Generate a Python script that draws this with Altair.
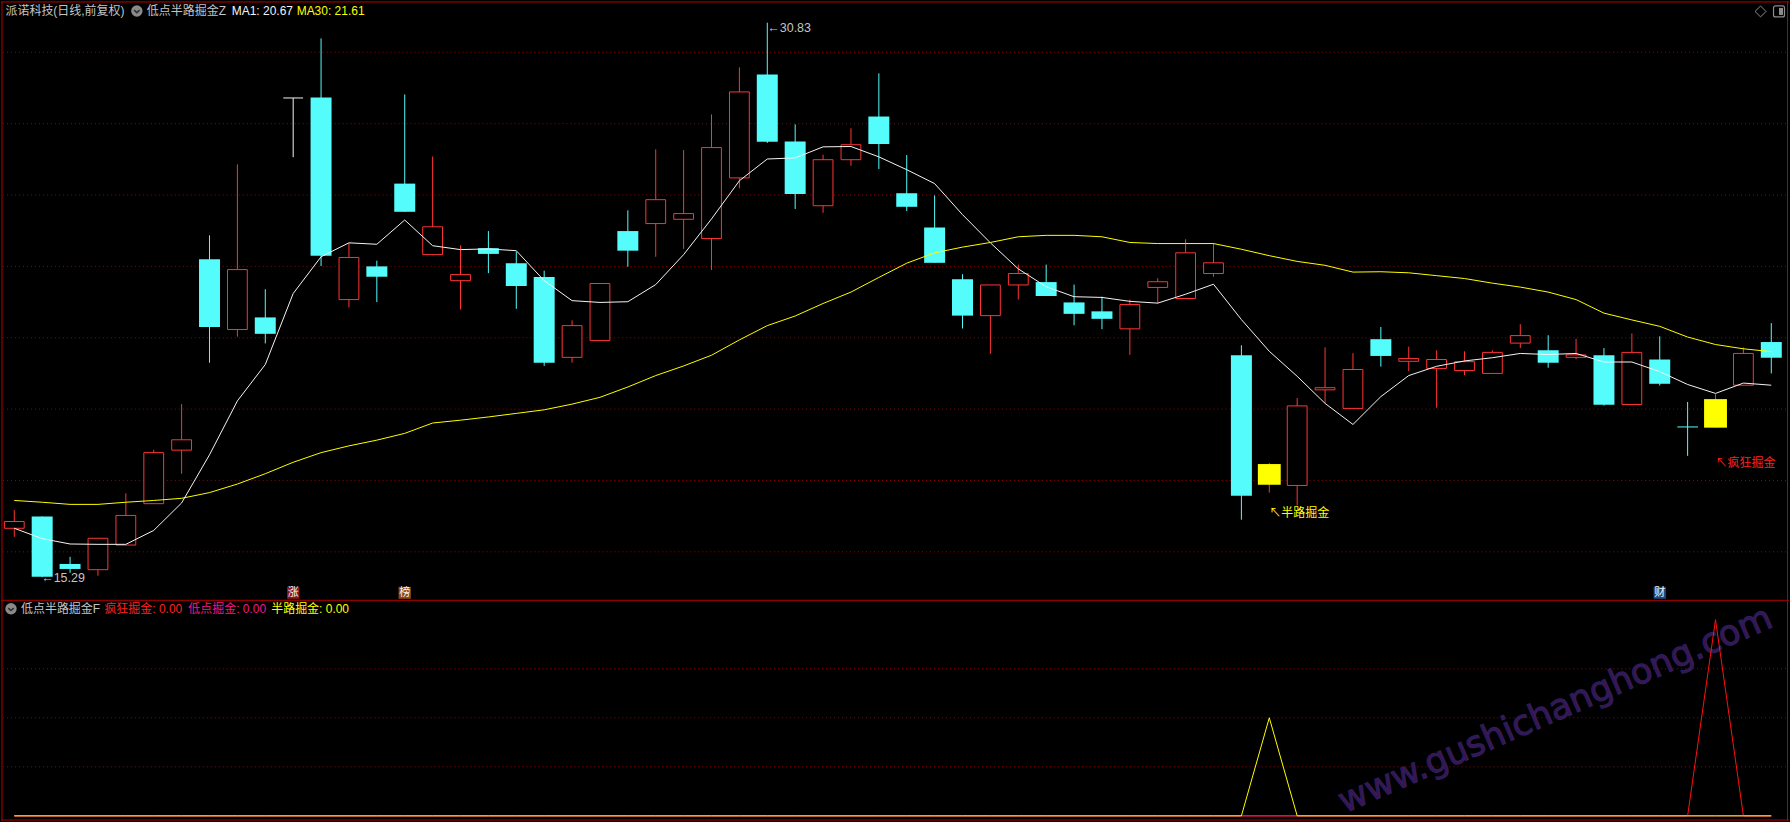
import altair as alt
import pandas as pd

# ---------------- daily bars, oldest first ----------------
opens = [16.66, 16.99, 15.66, 15.50, 16.19, 17.35, 18.85, 24.20, 22.23, 22.57,
         28.72, 28.73, 23.07, 24.00, 26.32, 24.33, 23.60, 24.51, 24.09, 23.70,
         21.45, 21.92, 24.99, 25.20, 25.32, 24.78, 26.48, 29.38, 27.50, 25.70,
         26.99, 28.20, 26.05, 25.09, 23.64, 22.62, 23.48, 23.56, 22.99, 22.74,
         22.25, 23.41, 23.10, 23.80, 21.51, 17.88, 17.86, 20.54, 20.02, 21.96,
         21.34, 21.14, 21.08, 21.00, 21.85, 21.65, 21.45, 21.51, 20.13, 21.39,
         19.50, 19.48, 20.67, 21.88]
highs = [17.17, 16.99, 15.86, 16.38, 17.64, 18.86, 20.14, 24.87, 26.86, 23.36,
         28.72, 30.39, 24.65, 24.16, 28.82, 27.08, 24.59, 24.99, 24.41, 23.88,
         22.49, 23.52, 25.57, 27.28, 27.26, 28.26, 29.58, 30.83, 27.98, 27.13,
         27.87, 29.41, 27.12, 25.99, 23.78, 23.48, 24.05, 24.05, 23.49, 23.15,
         23.07, 23.67, 24.76, 24.65, 21.79, 18.49, 20.31, 21.73, 21.57, 22.30,
         21.75, 21.65, 21.62, 21.65, 22.38, 22.07, 21.97, 21.71, 22.12, 22.04,
         20.20, 20.42, 21.73, 22.41]
lows = [16.42, 15.29, 15.41, 15.33, 16.19, 17.35, 18.19, 21.30, 22.03, 21.84,
        27.06, 24.01, 22.85, 23.00, 25.53, 24.33, 22.79, 23.81, 22.81, 21.21,
        21.30, 21.92, 23.99, 24.27, 24.49, 23.90, 26.19, 27.46, 25.61, 25.50,
        26.82, 26.73, 25.55, 24.10, 22.26, 21.55, 23.07, 23.17, 22.35, 22.24,
        21.52, 22.96, 23.10, 23.71, 16.90, 17.66, 17.30, 20.17, 20.02, 21.19,
        21.06, 20.04, 20.95, 21.00, 21.71, 21.16, 21.40, 20.10, 20.13, 20.66,
        18.69, 19.48, 20.67, 21.00]
closes = [16.85, 15.30, 15.52, 16.38, 17.02, 18.78, 19.14, 22.30, 23.91, 22.11,
          28.72, 24.30, 24.25, 23.71, 25.53, 25.11, 23.77, 24.35, 23.45, 21.30,
          22.34, 23.52, 24.44, 25.87, 25.48, 27.33, 28.89, 27.49, 26.03, 26.99,
          27.41, 27.43, 25.67, 24.10, 22.62, 23.48, 23.80, 23.17, 22.67, 22.53,
          22.93, 23.57, 24.38, 24.10, 17.57, 18.46, 20.09, 20.60, 21.11, 21.49,
          21.42, 21.39, 21.33, 21.59, 22.06, 21.30, 21.52, 20.12, 21.59, 20.71,
          19.50, 20.28, 21.56, 21.44]
# up = hollow red, down = solid cyan, sig = signal day (yellow body),
# doji_w / doji_c = flat bars drawn white / cyan
kinds = ["up", "down", "down", "up", "up", "up", "up", "down", "up", "down",
         "doji_w", "down", "up", "down", "down", "up", "up", "down", "down", "down",
         "up", "up", "down", "up", "up", "up", "up", "down", "down", "up",
         "up", "down", "down", "down", "down", "up", "up", "down", "down", "down",
         "up", "up", "up", "up", "down", "sig", "up", "up", "up", "down",
         "up", "up", "up", "up", "up", "down", "up", "down", "up", "down",
         "doji_c", "sig", "up", "down"]
# MA1 (white) and MA30 (yellow) overlay lines
ma1 = [16.66, 16.37, 16.22, 16.21, 16.21, 16.60, 17.37, 18.72, 20.23, 21.25,
       23.24, 24.27, 24.66, 24.62, 25.30, 24.58, 24.47, 24.49, 24.44, 23.60,
       23.04, 22.99, 23.01, 23.49, 24.33, 25.33, 26.40, 27.01, 27.04, 27.35,
       27.36, 27.07, 26.71, 26.32, 25.45, 24.66, 23.93, 23.43, 23.15, 23.13,
       23.02, 22.97, 23.22, 23.50, 22.51, 21.62, 20.92, 20.16, 19.57, 20.35,
       20.94, 21.20, 21.35, 21.44, 21.56, 21.53, 21.56, 21.32, 21.32, 21.05,
       20.69, 20.44, 20.73, 20.67]
ma30 = [17.44, 17.39, 17.33, 17.33, 17.39, 17.44, 17.50, 17.66, 17.90, 18.19,
        18.51, 18.78, 18.97, 19.13, 19.32, 19.61, 19.69, 19.78, 19.88, 19.98,
        20.14, 20.33, 20.62, 20.94, 21.21, 21.51, 21.94, 22.34, 22.61, 22.96,
        23.28, 23.69, 24.09, 24.38, 24.54, 24.67, 24.83, 24.87, 24.87, 24.83,
        24.67, 24.64, 24.64, 24.64, 24.48, 24.30, 24.14, 24.03, 23.84, 23.85,
        23.82, 23.74, 23.66, 23.53, 23.42, 23.28, 23.07, 22.69, 22.50, 22.32,
        22.02, 21.81, 21.69, 21.61]

# ---------------- sub-panel signal series ----------------
crazy_gold = [0, 0, 0, 0, 0, 0, 0, 0, 0, 0, 0, 0, 0, 0, 0, 0, 0, 0, 0, 0,
              0, 0, 0, 0, 0, 0, 0, 0, 0, 0, 0, 0, 0, 0, 0, 0, 0, 0, 0, 0,
              0, 0, 0, 0, 0, 0, 0, 0, 0, 0, 0, 0, 0, 0, 0, 0, 0, 0, 0, 0,
              0, 4, 0, 0]
low_gold = [0, 0, 0, 0, 0, 0, 0, 0, 0, 0, 0, 0, 0, 0, 0, 0, 0, 0, 0, 0,
            0, 0, 0, 0, 0, 0, 0, 0, 0, 0, 0, 0, 0, 0, 0, 0, 0, 0, 0, 0,
            0, 0, 0, 0, 0, 0, 0, 0, 0, 0, 0, 0, 0, 0, 0, 0, 0, 0, 0, 0,
            0, 0, 0, 0]
half_gold = [0, 0, 0, 0, 0, 0, 0, 0, 0, 0, 0, 0, 0, 0, 0, 0, 0, 0, 0, 0,
             0, 0, 0, 0, 0, 0, 0, 0, 0, 0, 0, 0, 0, 0, 0, 0, 0, 0, 0, 0,
             0, 0, 0, 0, 0, 2, 0, 0, 0, 0, 0, 0, 0, 0, 0, 0, 0, 0, 0, 0,
             0, 0, 0, 0]

grid_main = [16, 18, 20, 22, 24, 26, 28, 30]
grid_sub = [1, 2, 3]

badge_idx = [10, 14, 59]
badge_text = ["涨", "榜", "财"]

# ---------------- styling ----------------
CYAN = "#54fcfc"
RED = "#ff3434"
YELLOW = "#ffff00"
WHITE = "#f4f4f4"
GRAY = "#c4c4c4"
PINK = "#f0168a"
GRID = "#9a0000"
FRAME = "#b80000"
FONT = "Liberation Sans, Noto Sans CJK SC, DejaVu Sans"

W = 1790
H_MAIN = 599
H_SUB = 223

x_sc = alt.Scale(domain=[-0.4764, 63.635], nice=False, zero=False)
y_main = alt.Scale(domain=[14.656, 31.425], nice=False, zero=False)
y_sub = alt.Scale(domain=[-0.136, 4.405], nice=False, zero=False)


def X(f):
    return alt.X(f, type="quantitative", scale=x_sc, axis=None)


def YM(f):
    return alt.Y(f, type="quantitative", scale=y_main, axis=None)


def YS(f):
    return alt.Y(f, type="quantitative", scale=y_sub, axis=None)


def text_at(txt, x, y, color, size=12, align="left"):
    return alt.Chart(pd.DataFrame({"t": [txt]})).mark_text(
        align=align, baseline="middle", font=FONT, fontSize=size, color=color
    ).encode(x=alt.value(x), y=alt.value(y), text="t:N")


def hline(x1, x2, y, color=FRAME):
    return alt.Chart(pd.DataFrame({"k": [0]})).mark_rule(color=color, strokeWidth=1).encode(
        x=alt.value(x1), x2=alt.value(x2), y=alt.value(y))


def vline(x, y1, y2, color=FRAME):
    return alt.Chart(pd.DataFrame({"k": [0]})).mark_rule(color=color, strokeWidth=1).encode(
        x=alt.value(x), y=alt.value(y1), y2=alt.value(y2))


def menu_icon(x, y):
    disc = alt.Chart(pd.DataFrame({"k": [0]})).mark_point(
        shape="circle", filled=True, size=130, color="#8a8a8a", opacity=1
    ).encode(x=alt.value(x), y=alt.value(y))
    chev = alt.Chart(pd.DataFrame({"k": [0]})).mark_point(
        shape="M-1,-0.45L0,0.45L1,-0.45", filled=False, size=30, color="#303030",
        strokeWidth=1.6, opacity=1
    ).encode(x=alt.value(x), y=alt.value(y + 0.5))
    return disc + chev


bars = pd.DataFrame({
    "i": list(range(len(closes))), "open": opens, "high": highs, "low": lows,
    "close": closes, "kind": kinds, "ma1": ma1, "ma30": ma30,
    "crazy": crazy_gold, "lowpt": low_gold, "half": half_gold,
})
base = alt.Chart(bars)

# ---------------- main price panel ----------------
grid1 = alt.Chart(pd.DataFrame({"p": grid_main})).mark_rule(
    color=GRID, strokeDash=[1, 3], strokeWidth=1
).encode(y=YM("p"), x=alt.value(2), x2=alt.value(1788))

wicks = base.mark_rule(strokeWidth=1).encode(
    x=X("i"), y=YM("low"), y2="high:Q",
    color=alt.Color("kind:N", scale=alt.Scale(
        domain=["up", "down", "sig", "doji_w", "doji_c"],
        range=[RED, CYAN, RED, WHITE, CYAN]), legend=None),
)

hollow = base.transform_filter("datum.kind == 'up'").transform_calculate(
    x0="datum.i - 0.355", x1="datum.i + 0.355"
).mark_rect(fill="#000000", stroke=RED, strokeWidth=1).encode(
    x=X("x0"), x2="x1:Q", y=YM("open"), y2="close:Q")

solid = base.transform_filter("datum.kind == 'down'").transform_calculate(
    x0="datum.i - 0.376", x1="datum.i + 0.376"
).mark_rect(color=CYAN).encode(
    x=X("x0"), x2="x1:Q", y=YM("open"), y2="close:Q")

signal = base.transform_filter("datum.kind == 'sig'").transform_calculate(
    x0="datum.i - 0.41", x1="datum.i + 0.41"
).mark_rect(color=YELLOW).encode(
    x=X("x0"), x2="x1:Q", y=YM("open"), y2="close:Q")

doji_w = base.transform_filter("datum.kind == 'doji_w'").transform_calculate(
    x0="datum.i - 0.355", x1="datum.i + 0.355"
).mark_rule(color=WHITE, strokeWidth=1).encode(x=X("x0"), x2="x1:Q", y=YM("close"))

doji_c = base.transform_filter("datum.kind == 'doji_c'").transform_calculate(
    x0="datum.i - 0.37", x1="datum.i + 0.37"
).mark_rule(color=CYAN, strokeWidth=1).encode(x=X("x0"), x2="x1:Q", y=YM("close"))

line30 = base.mark_line(color=YELLOW, strokeWidth=1).encode(x=X("i"), y=YM("ma30"))
line1 = base.mark_line(color=WHITE, strokeWidth=1).encode(x=X("i"), y=YM("ma1"))

low_lbl = base.transform_filter("datum.i == 1").transform_calculate(
    lbl="'←' + format(datum.low, '.2f')"
).mark_text(align="left", baseline="middle", font=FONT, fontSize=12.5, color=GRAY, dx=-1, dy=1).encode(
    x=X("i"), y=YM("low"), text="lbl:N")

high_lbl = base.transform_filter("datum.i == 27").transform_calculate(
    lbl="'←' + format(datum.high, '.2f')"
).mark_text(align="left", baseline="middle", font=FONT, fontSize=12.5, color=GRAY, dx=0, dy=5).encode(
    x=X("i"), y=YM("high"), text="lbl:N")

half_lbl = base.transform_filter("datum.i == 45").mark_text(
    align="left", baseline="middle", font=FONT, fontSize=12, color=YELLOW, dy=20
).encode(x=X("i"), y=YM("low"), text=alt.value("↖半路掘金"))

crazy_lbl = base.transform_filter("datum.i == 61").mark_text(
    align="left", baseline="middle", font=FONT, fontSize=12, color="#ff2020", dy=35
).encode(x=X("i"), y=YM("low"), text=alt.value("↖疯狂掘金"))

badges = pd.DataFrame({"i": badge_idx, "tag": badge_text})
badge_bg = alt.Chart(badges).transform_calculate(
    x0="datum.i - 0.22", x1="datum.i + 0.22"
).mark_rect().encode(
    x=X("x0"), x2="x1:Q", y=alt.value(586), y2=alt.value(598),
    color=alt.Color("tag:N", scale=alt.Scale(domain=badge_text,
                    range=["#8e1616", "#8c4a12", "#1c4a82"]), legend=None),
)
badge_tx = alt.Chart(badges).mark_text(
    font=FONT, fontSize=11, baseline="middle", color="#f2f2f2"
).encode(x=X("i"), y=alt.value(592), text="tag:N")

# header line of the price panel
head = (
    text_at("派诺科技(日线,前复权)", 4.5, 9.5, GRAY)
    + menu_icon(136, 9.5)
    + text_at("低点半路掘金Z", 146, 9.5, GRAY)
    + text_at("MA1: 20.67", 231, 9.5, WHITE)
    + text_at("MA30: 21.61", 296, 9.5, YELLOW)
)

diamond = alt.Chart(pd.DataFrame({"k": [0]})).mark_point(
    shape="diamond", filled=False, size=120, color="#8c8c8c", strokeWidth=1, opacity=1
).encode(x=alt.value(1761.5), y=alt.value(10))
box_out = alt.Chart(pd.DataFrame({"k": [0]})).mark_rect(
    filled=False, stroke="#8c8c8c", strokeWidth=1.2, cornerRadius=2
).encode(x=alt.value(1774.5), x2=alt.value(1785.5), y=alt.value(4.5), y2=alt.value(15.5))
box_in = alt.Chart(pd.DataFrame({"k": [0]})).mark_rect(color="#8c8c8c").encode(
    x=alt.value(1780), x2=alt.value(1784), y=alt.value(6.5), y2=alt.value(13.5))

frame_main = (
    hline(0, W, 0.5) + vline(1, 0, H_MAIN) + vline(1788.5, 0, H_MAIN)
)

main = alt.layer(
    grid1, wicks, hollow, solid, signal, doji_w, doji_c, line30, line1,
    low_lbl, high_lbl, half_lbl, crazy_lbl, badge_bg, badge_tx,
    head, diamond, box_out, box_in, frame_main,
).resolve_scale(color="independent").properties(width=W, height=H_MAIN)

# ---------------- indicator sub-panel ----------------
grid2 = alt.Chart(pd.DataFrame({"v": grid_sub})).mark_rule(
    color=GRID, strokeDash=[1, 3], strokeWidth=1
).encode(y=YS("v"), x=alt.value(2), x2=alt.value(1788))

watermark = alt.Chart(pd.DataFrame({"t": ["www.gushichanghong.com"]})).mark_text(
    font="DejaVu Sans", fontSize=35, angle=336.5, align="center", baseline="middle",
    fill="#3c1450", stroke="#2a2060", strokeWidth=1,
).encode(x=alt.value(1556), y=alt.value(110), text="t:N")

red_line = base.mark_line(color="#ff1010", strokeWidth=1).encode(x=X("i"), y=YS("crazy"))
pink_line = base.mark_line(color=PINK, strokeWidth=1).encode(x=X("i"), y=YS("lowpt"))
yel_line = base.mark_line(color=YELLOW, strokeWidth=1).encode(x=X("i"), y=YS("half"))

sub_head = (
    menu_icon(10, 9)
    + text_at("低点半路掘金F", 20, 9, GRAY)
    + text_at("疯狂掘金: 0.00", 103.5, 9, "#ff2020")
    + text_at("低点掘金: 0.00", 187.5, 9, PINK)
    + text_at("半路掘金: 0.00", 270.5, 9, YELLOW)
)

frame_sub = (
    hline(0, W, 0.5) + hline(0, W, 220.5) + vline(1, 0, 221) + vline(1788.5, 0, 221)
)

sub = alt.layer(
    grid2, watermark, red_line, pink_line, yel_line, sub_head, frame_sub,
).properties(width=W, height=H_SUB)

chart = alt.vconcat(main, sub, spacing=0, bounds="flush").properties(
    padding=0, background="#000000"
).configure_view(stroke=None, fill="#000000")

chart.save("out.html", embed_options={"renderer": "svg", "actions": False})
